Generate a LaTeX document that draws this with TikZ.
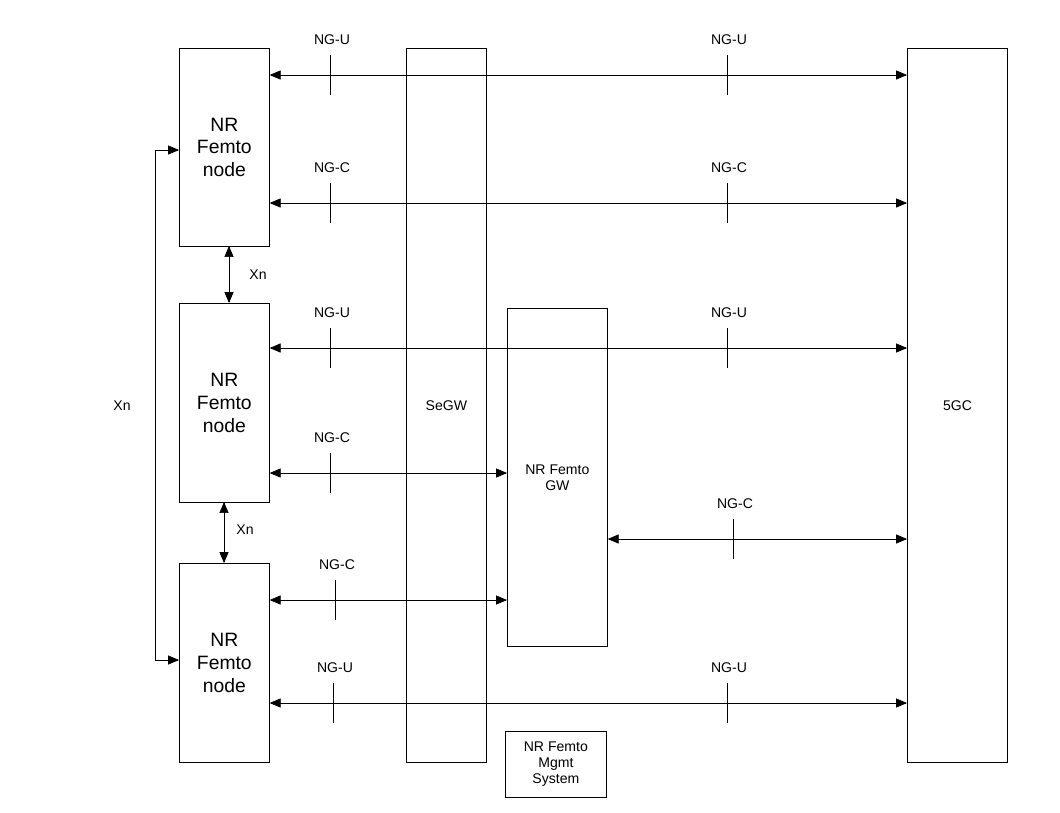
\documentclass[tikz,border=0pt]{standalone}
\usepackage{fontspec}
\setmainfont{Liberation Sans}
\usetikzlibrary{arrows}
\begin{document}
\begin{tikzpicture}[x=0.02cm, y=-0.02cm, >=triangle 45, thin]
  \tikzstyle{box}=[draw, inner sep=0pt, anchor=north west, align=center]
  \tikzstyle{lbl}=[font=\fontsize{8}{9}\selectfont]
  \tikzstyle{link}=[<->]
  \useasboundingbox (0,0) rectangle (1060,812);

	\node[box, minimum width=90*0.02cm, minimum height=198*0.02cm, font=\fontsize{11}{13}\selectfont] (F1) at (179,48) {NR\\Femto\\node};
	\node[box, minimum width=90*0.02cm, minimum height=199*0.02cm, font=\fontsize{11}{13}\selectfont] (F2) at (179,303) {NR\\Femto\\node};
	\node[box, minimum width=90*0.02cm, minimum height=199*0.02cm, font=\fontsize{11}{13}\selectfont] (F3) at (179,563) {NR\\Femto\\node};
	\node[box, lbl, minimum width=80*0.02cm, minimum height=714*0.02cm] (SEGW) at (406,48) {SeGW};
	\node[box, lbl, minimum width=100*0.02cm, minimum height=338*0.02cm] (FGW) at (507,308) {NR Femto\\GW};
	\node[box, lbl, minimum width=101*0.02cm, minimum height=66*0.02cm] (MGMT) at (505,731) {NR Femto\\Mgmt\\System};
	\node[box, lbl, semithick, minimum width=100*0.02cm, minimum height=714*0.02cm] (CORE) at (907,48) {5GC};

	% NG interfaces
	\draw[link] (F1.east |- 0,75) -- (CORE.west |- 0,75);
	\draw[link] (F1.east |- 0,203) -- (CORE.west |- 0,203);
	\draw[link] (F2.east |- 0,348) -- (CORE.west |- 0,348);
	\draw[link] (F2.east |- 0,473) -- (FGW.west |- 0,473);
	\draw[link] (FGW.east |- 0,539) -- (CORE.west |- 0,539);
	\draw[link] (F3.east |- 0,600) -- (FGW.west |- 0,600);
	\draw[link] (F3.east |- 0,703) -- (CORE.west |- 0,703);

	\foreach \x/\y/\t in {330/75/NG-U, 727/75/NG-U, 330/203/NG-C, 727/203/NG-C,
	    330/348/NG-U, 727/348/NG-U, 330/473/NG-C, 733/539/NG-C, 335/600/NG-C,
	    333/703/NG-U, 727/703/NG-U}
	{
		\draw (\x,\y-20) -- (\x,\y+20);
		\node[lbl] at (\x+2,\y-35) {\t};
	}

	% Xn
	\draw[link] (229,246) -- (229,303);
	\node[lbl] at (258,275) {Xn};
	\draw[link] (224,502) -- (224,563);
	\node[lbl] at (245,530) {Xn};
	\draw[link] (F1.west |- 0,150) -- (155,150) -- (155,660) -- (F3.west |- 0,660);
	\node[lbl] at (122,406) {Xn};

\end{tikzpicture}
\end{document}
